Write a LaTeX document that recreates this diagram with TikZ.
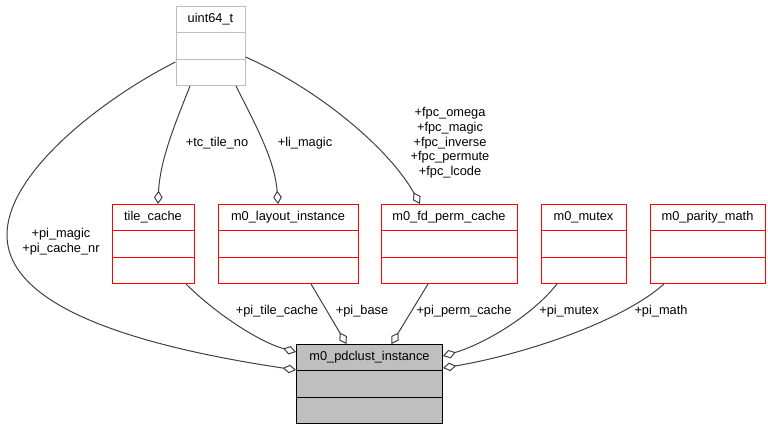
\documentclass[tikz,border=0pt]{standalone}
\usepackage{fontspec}
\setmainfont{Liberation Sans}
\usetikzlibrary{
  arrows.meta,
  shapes.multipart,
  calc
}
\definecolor{edgegray}{RGB}{64,64,64}
\definecolor{boxgray}{RGB}{191,191,191}
\definecolor{linkred}{RGB}{255,0,0}
\newcommand{\emptyparts}{\nodepart{two}\strut\nodepart{three}\strut}

\begin{document}
\begin{tikzpicture}[
  x=0.75pt, y=-0.75pt,
  every node/.style={font=\fontsize{9.6}{11}\selectfont},
  classbox/.style={rectangle split, rectangle split parts=3, draw=linkred,
                fill=white, line width=0.75pt, inner xsep=3pt, inner ysep=4pt,
                anchor=north},
  extbox/.style={classbox, draw=boxgray},
  mainbox/.style={classbox, draw=black, fill=boxgray},
  member/.style={draw=edgegray, line width=0.75pt,
                -{Diamond[open, length=10pt, width=6.5pt]}},
  lbl/.style={align=center, inner sep=0pt}
]
\useasboundingbox (0,0) rectangle (768,427);

\node[extbox, minimum width=51.75pt] (uint) at (210.5,6) {\strut uint64\_t\emptyparts};

\node[classbox, minimum width=61.5pt] (tile) at (153,204) {\strut tile\_cache\emptyparts};
\node[classbox, minimum width=105pt] (layout) at (288,204) {\strut m0\_layout\_instance\emptyparts};
\node[classbox, minimum width=102pt] (perm) at (449,204) {\strut m0\_fd\_perm\_cache\emptyparts};
\node[classbox, minimum width=63.75pt] (mutex) at (583.5,204) {\strut m0\_mutex\emptyparts};
\node[classbox, minimum width=86.25pt] (parity) at (707.5,204) {\strut m0\_parity\_math\emptyparts};

\node[mainbox, minimum width=109.5pt] (pdc) at (369.5,344) {\strut m0\_pdclust\_instance\emptyparts};

% uint64_t members
\draw[member] ($(uint.north west)+(0,56)$) .. controls +(-66,33) and +(0,-65) .. (7,235)
  .. controls +(0,70) and +(-167,-25) .. ($(pdc.north west)+(0,26)$);
\draw[member] ($(uint.south)+(-20.5,0)$) .. controls +(-15,38) and +(2,-44) .. ($(tile.north)+(5,0)$);
\draw[member] ($(uint.south)+(25.5,0)$) .. controls +(19,38) and +(-3,-44) .. ($(layout.north)+(-10,0)$);
\draw[member] ($(uint.north east)+(0,51)$) .. controls +(75,33) and +(-30,-54) .. ($(perm.north)+(-29,0)$);

% members of m0_pdclust_instance
\draw[member] ($(tile.south)+(33,0)$) .. controls +(29,29) and +(-37,-10) .. ($(pdc.north west)+(0,8)$);
\draw[member] ($(layout.south)+(23,0)$) -- ($(pdc.north)+(-23,0)$);
\draw[member] ($(perm.south)+(-21,0)$) -- ($(pdc.north)+(22,0)$);
\draw[member] ($(mutex.south)+(-26.5,0)$) .. controls +(-27,34) and +(38,-11) .. ($(pdc.north east)+(0,12)$);
\draw[member] ($(parity.south)+(-43.5,0)$) .. controls +(-44,39) and +(78,-13) .. ($(pdc.north east)+(0,24)$);

\node[lbl] (lmagic) at (61,242) {+pi\_magic\\+pi\_cache\_nr};
\node[lbl] (ltile) at (217,143) {+tc\_tile\_no};
\node[lbl] (lli) at (305,143) {+li\_magic};
\node[lbl] (lfpc) at (450,143) {+fpc\_omega\\+fpc\_magic\\+fpc\_inverse\\+fpc\_permute\\+fpc\_lcode};
\node[lbl] (ltc) at (277,311) {+pi\_tile\_cache};
\node[lbl] (lbase) at (362,311) {+pi\_base};
\node[lbl] (lperm) at (464,311) {+pi\_perm\_cache};
\node[lbl] (lmutex) at (569,311) {+pi\_mutex};
\node[lbl] (lmath) at (661,311) {+pi\_math};

\end{tikzpicture}
\end{document}
